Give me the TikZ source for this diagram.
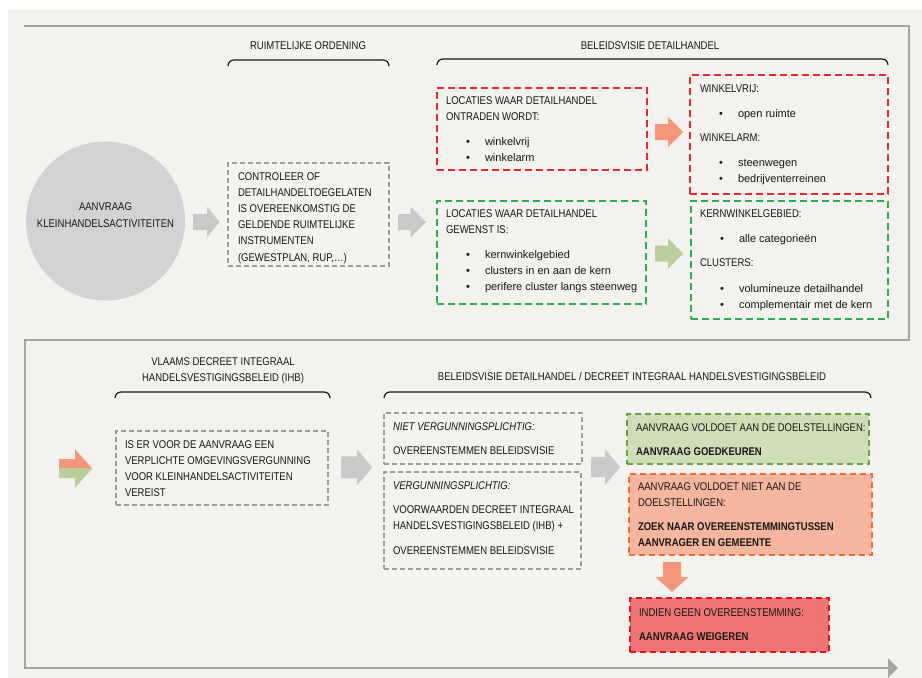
\documentclass[tikz,border=0pt]{standalone}
\usepackage{fontspec}
\setmainfont{Liberation Sans}[FakeStretch=0.85]
\newfontfamily\itemfont{Liberation Sans}
\usetikzlibrary{arrows.meta,fit}
\definecolor{bg}{RGB}{243,242,238}
\definecolor{ink}{RGB}{25,22,23}
\definecolor{flowc}{RGB}{165,165,165}
\definecolor{cgrey}{RGB}{209,210,211}
\definecolor{agrey}{RGB}{200,201,202}
\definecolor{aorange}{RGB}{245,150,122}
\definecolor{agreen}{RGB}{184,207,155}
\definecolor{dgrey}{RGB}{155,155,155}
\definecolor{dred}{RGB}{232,40,46}
\definecolor{dgreen}{RGB}{40,176,80}
\definecolor{okfill}{RGB}{207,221,184}
\definecolor{okdraw}{RGB}{95,168,60}
\definecolor{nokfill}{RGB}{245,181,158}
\definecolor{nokdraw}{RGB}{239,108,52}
\definecolor{rejfill}{RGB}{239,117,117}
\definecolor{rejdraw}{RGB}{225,20,27}
% right block arrow: x, y centre, shaft length, total length, half shaft, half head, colour
\newcommand\rarr[7]{\fill[#7] (#1,#2-#5) -- (#1+#3,#2-#5) -- (#1+#3,#2-#6) -- (#1+#4,#2) -- (#1+#3,#2+#6) -- (#1+#3,#2+#5) -- (#1,#2+#5) -- cycle;}
\newcommand\brc[3]{\draw[brace] (#1,#3+6) to[out=90,in=180] (#1+6,#3) -- (#2-6,#3) to[out=0,in=90] (#2,#3+6);}
\newcommand\bul[1]{{\itemfont\makebox[19pt][l]{\textbullet}#1}}
\tikzset{
  txt/.style={anchor=base west, inner sep=0pt, outer sep=0pt, text=ink, font=\fontsize{11.2}{13}\selectfont},
  ttl/.style={txt, anchor=base},
  itm/.style={txt, font=\itemfont\fontsize{11}{13}\selectfont},
  boxbase/.style={inner sep=0pt, outer sep=0pt},
  greybox/.style={boxbase, draw=dgrey, dash pattern=on 5pt off 3pt, line width=1.2pt},
  redbox/.style={boxbase, draw=dred, dash pattern=on 7pt off 4pt, line width=1.5pt},
  greenbox/.style={boxbase, draw=dgreen, dash pattern=on 7pt off 4pt, line width=1.5pt},
  okbox/.style={boxbase, fill=okfill, draw=okdraw, dash pattern=on 6pt off 4pt, line width=1.5pt},
  nokbox/.style={boxbase, fill=nokfill, draw=nokdraw, dash pattern=on 6pt off 4pt, line width=1.5pt},
  rejbox/.style={boxbase, fill=rejfill, draw=rejdraw, dash pattern=on 6pt off 4pt, line width=1.5pt},
  brace/.style={draw=ink, line width=1.2pt},
  flow/.style={draw=flowc, line width=2pt, -{Triangle[length=10pt,width=19pt]}}
}
\begin{document}
\begin{tikzpicture}[x=1pt,y=-1pt]
\useasboundingbox (0,0) rectangle (922,678);
\fill[white] (0,0) rectangle (922,678);
\fill[bg] (8,10) rectangle (922,678);
% flow line
\coordinate (f0) at (24,26);
\coordinate (f1) at (909,26);
\coordinate (f2) at (909,340);
\coordinate (f3) at (25,340);
\coordinate (f4) at (25,668);
\coordinate (f5) at (898,668);
\draw[flow] (f0) -- (f1) -- (f2) -- (f3) -- (f4) -- (f5);

% ===== top row =====
\node[circle, fill=cgrey, minimum size=159pt, inner sep=0pt] (circ) at (105.5,221) {};
\node[ttl] (ca1) at (105.5,210) {AANVRAAG};
\node[ttl] (ca2) at (105.5,227) {KLEINHANDELSACTIVITEITEN};

\node[ttl] (tro) at (308,49) {RUIMTELIJKE ORDENING};
\brc{228}{389}{60}
\node[greybox, fit={(228,163) (389,266)}] (gb1) {};
\node[txt] (g1a) at (238,180) {CONTROLEER OF};
\node[txt] (g1b) at (238,196.2) {DETAILHANDELTOEGELATEN};
\node[txt] (g1c) at (238,212.4) {IS OVEREENKOMSTIG DE};
\node[txt] (g1d) at (238,228.6) {GELDENDE RUIMTELIJKE};
\node[txt] (g1e) at (238,244.8) {INSTRUMENTEN};
\node[txt] (g1f) at (238,261) {(GEWESTPLAN, RUP,…)};

\rarr{193}{222}{14}{26.5}{8}{15.3}{agrey}
\rarr{398}{222}{12.5}{28}{8}{15.5}{agrey}

\node[ttl] (tbd) at (650,49) {BELEIDSVISIE DETAILHANDEL};
\brc{437}{888}{59}

\node[redbox, fit={(437,88) (647,170)}] (r1) {};
\node[txt] (r1a) at (446,104) {LOCATIES WAAR DETAILHANDEL};
\node[txt] (r1b) at (446,120) {ONTRADEN WORDT:};
\node[itm] (r1c) at (466,145) {\bul{winkelvrij}};
\node[itm] (r1d) at (466,161) {\bul{winkelarm}};

\node[redbox, fit={(690,75) (888,194)}] (r2) {};
\node[txt] (r2a) at (700,92) {WINKELVRIJ:};
\node[itm] (r2b) at (719,117) {\bul{open ruimte}};
\node[txt] (r2c) at (700,141) {WINKELARM:};
\node[itm] (r2d) at (719,166) {\bul{steenwegen}};
\node[itm] (r2e) at (719,182) {\bul{bedrijventerreinen}};

\node[greenbox, fit={(437,201) (646,304)}] (gr1) {};
\node[txt] (gr1a) at (446,217) {LOCATIES WAAR DETAILHANDEL};
\node[txt] (gr1b) at (446,233) {GEWENST IS:};
\node[itm] (gr1c) at (466,258) {\bul{kernwinkelgebied}};
\node[itm] (gr1d) at (466,274.5) {\bul{clusters in en aan de kern}};
\node[itm] (gr1e) at (466,290.5) {\bul{perifere cluster langs steenweg}};

\node[greenbox, fit={(691,201) (888,319)}] (gr2) {};
\node[txt] (gr2a) at (700,217) {KERNWINKELGEBIED:};
\node[itm] (gr2b) at (720,242.5) {\bul{alle categorieën}};
\node[txt] (gr2c) at (700,266.5) {CLUSTERS:};
\node[itm] (gr2d) at (720,292) {\bul{volumineuze detailhandel}};
\node[itm] (gr2e) at (720,308) {\bul{complementair met de kern}};

\rarr{655}{132}{13}{28}{8}{15}{aorange}
\rarr{655}{253.5}{13}{28}{8}{15.5}{agreen}

% ===== bottom row =====
\begin{scope}
  \clip (50,440) rectangle (100,468.5);
  \rarr{59}{468.5}{16}{33.3}{9.5}{19.2}{aorange}
\end{scope}
\begin{scope}
  \clip (50,468.5) rectangle (100,500);
  \rarr{59}{468.5}{16}{33.3}{9.5}{19.2}{agreen}
\end{scope}

\node[ttl] (tvl1) at (223,365) {VLAAMS DECREET INTEGRAAL};
\node[ttl] (tvl2) at (223,381) {HANDELSVESTIGINGSBELEID (IHB)};
\brc{115}{330}{392}
\node[greybox, fit={(116,431) (328,505)}] (gb2) {};
\node[txt] (gb2a) at (125,448.5) {IS ER VOOR DE AANVRAAG EEN};
\node[txt] (gb2b) at (125,464.3) {VERPLICHTE OMGEVINGSVERGUNNING};
\node[txt] (gb2c) at (125,480.1) {VOOR KLEINHANDELSACTIVITEITEN};
\node[txt] (gb2d) at (125,496) {VEREIST};

\rarr{341}{467.3}{16}{31.3}{11}{18}{agrey}

\node[ttl] (tbi) at (632,380) {BELEIDSVISIE DETAILHANDEL / DECREET INTEGRAAL HANDELSVESTIGINGSBELEID};
\brc{384}{871}{392}

\node[greybox, fit={(384,413) (582,464)}] (nv) {};
\node[txt] (nva) at (393,430) {\itshape NIET VERGUNNINGSPLICHTIG:};
\node[txt] (nvb) at (393,454) {OVEREENSTEMMEN BELEIDSVISIE};

\node[greybox, fit={(384,472) (581,569)}] (vp) {};
\node[txt] (vpa) at (393,489) {\itshape VERGUNNINGSPLICHTIG:};
\node[txt] (vpb) at (393,513.5) {VOORWAARDEN DECREET INTEGRAAL};
\node[txt] (vpc) at (393,529) {HANDELSVESTIGINGSBELEID (IHB) +};
\node[txt] (vpd) at (393,554) {OVEREENSTEMMEN BELEIDSVISIE};

\rarr{591}{467}{14}{29.3}{10}{18}{agrey}

\node[okbox, fit={(627,414) (869,464)}] (ok) {};
\node[txt] (oka) at (636,431) {AANVRAAG VOLDOET AAN DE DOELSTELLINGEN:};
\node[txt] (okb) at (636,455) {\bfseries AANVRAAG GOEDKEUREN};

\node[nokbox, fit={(629,474) (872,555)}] (nok) {};
\node[txt] (noka) at (638,490) {AANVRAAG VOLDOET NIET AAN DE};
\node[txt] (nokb) at (638,506) {DOELSTELLINGEN:};
\node[txt] (nokc) at (638,530) {\bfseries ZOEK NAAR OVEREENSTEMMINGTUSSEN};
\node[txt] (nokd) at (638,546.5) {\bfseries AANVRAGER EN GEMEENTE};

\fill[aorange] (663,562) -- (681,562) -- (681,577) -- (688.5,577) -- (672,592) -- (655.5,577) -- (663,577) -- cycle;

\node[rejbox, fit={(630,598) (829,652)}] (rej) {};
\node[txt] (reja) at (639,616) {INDIEN GEEN OVEREENSTEMMING:};
\node[txt] (rejb) at (639,640) {\bfseries AANVRAAG WEIGEREN};
\end{tikzpicture}
\end{document}
